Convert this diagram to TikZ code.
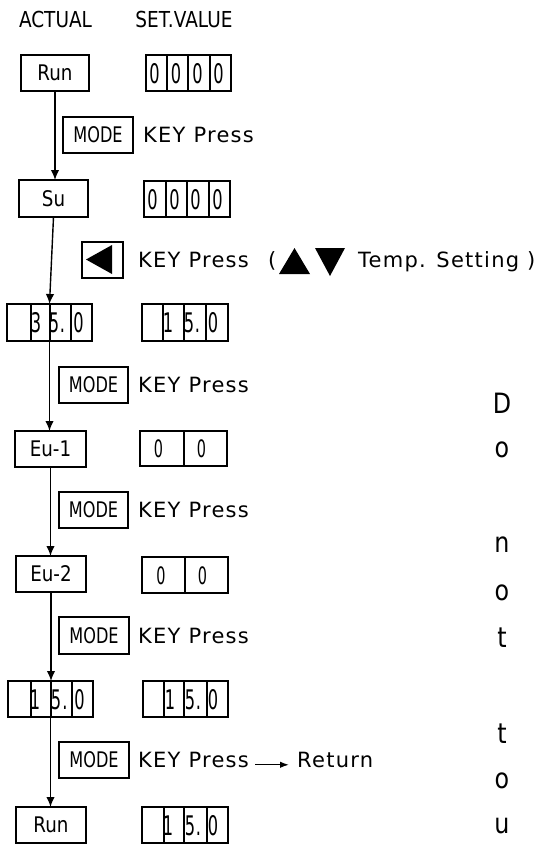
\documentclass[tikz,border=0pt]{standalone}
\usepackage{fontspec}
\setmainfont{DejaVu Sans}
\newfontfamily\lblfont{DejaVu Sans}[FakeStretch=0.85]
\newfontfamily\keyfont{DejaVu Sans}[LetterSpace=6]
\newfontfamily\modefont{DejaVu Sans}[FakeStretch=0.75]
\newfontfamily\digfont{DejaVu Sans}[FakeStretch=0.6]
\newfontfamily\hdfont{DejaVu Sans}[FakeStretch=0.84]
\newfontfamily\vtfont{DejaVu Sans}[FakeStretch=0.85]
\usetikzlibrary{arrows.meta}
\tikzset{
  box/.style={draw, line width=1.5pt, inner sep=0pt, outer sep=0pt, anchor=north west},
  lbl/.style={font=\lblfont\fontsize{21.5}{24}\selectfont},
  modebox/.style={box, font=\modefont\fontsize{21.5}{24}\selectfont},
  divline/.style={line width=1.4pt},
  dig/.style={font=\digfont\fontsize{27}{30}\selectfont, inner sep=0pt, anchor=base},
  digs/.style={font=\digfont\fontsize{24}{28}\selectfont, inner sep=0pt, anchor=base},
  keytxt/.style={font=\keyfont\fontsize{21}{24}\selectfont, inner sep=0pt, anchor=base west},
  hd/.style={font=\hdfont\fontsize{22}{26}\selectfont, inner sep=0pt, anchor=base},
  vt/.style={font=\vtfont\fontsize{28}{32}\selectfont, inner sep=0pt, anchor=base},
  conn/.style={line width=1.4pt, -{Latex[length=10pt,width=8.5pt]}},
  smallarrow/.style={line width=1.4pt, -{Latex[length=9pt,width=6.5pt]}, shorten <=6pt, shorten >=8pt}
}
\begin{document}
\begin{tikzpicture}[x=1pt,y=-1pt]
\fill[white] (0,0) rectangle (534,847);
\useasboundingbox (0,0) rectangle (534,847);

% headers
\node[hd] (hact) at (55.5,27) {ACTUAL};
\node[hd] (hset) at (184,27) {SET.VALUE};

% left column
\node[box, lbl, minimum width=68, minimum height=36] (run1) at (21,55) {Run};
\node[box, lbl, minimum width=69, minimum height=37] (su) at (19,180) {Su};
\node[box, minimum width=85, minimum height=37] (a35) at (7,304) {};
\foreach \d in {31,50,71} \draw[divline] (\d,0 |- a35.north) -- (\d,0 |- a35.south);
\node[dig] (a35d2) at (36,332) {3};
\node[dig] (a35d3) at (54,332) {5};
\node[dig] (a35p) at (62.5,332) {.};
\node[dig] (a35d4) at (78.5,332) {0};
\node[box, lbl, minimum width=71, minimum height=36] (eu1) at (15,431) {Eu-1};
\node[box, lbl, minimum width=70, minimum height=36] (eu2) at (16,556) {Eu-2};
\node[box, minimum width=85, minimum height=36] (a15) at (8,681) {};
\foreach \d in {31,51,72} \draw[divline] (\d,0 |- a15.north) -- (\d,0 |- a15.south);
\node[dig] (a15d2) at (35,709) {1};
\node[dig] (a15d3) at (56,709) {5};
\node[dig] (a15p) at (65,709) {.};
\node[dig] (a15d4) at (79.5,709) {0};
\node[box, lbl, minimum width=70, minimum height=36] (run2) at (16,807) {Run};

% right column
\node[box, minimum width=85, minimum height=36] (s1) at (146,55) {};
\foreach \d in {167,188,210} \draw[divline] (\d,0 |- s1.north) -- (\d,0 |- s1.south);
\foreach \x/\n in {154.5/1,176/2,197.5/3,218.5/4} \node[dig] (s1d\n) at (\x,83) {0};

\node[box, minimum width=86, minimum height=36] (s2) at (144,181) {};
\foreach \d in {166,187,209} \draw[divline] (\d,0 |- s2.north) -- (\d,0 |- s2.south);
\foreach \x/\n in {152.5/1,174.5/2,195.5/3,217.5/4} \node[dig] (s2d\n) at (\x,209) {0};

\node[box, minimum width=86, minimum height=37] (s3) at (142,304) {};
\foreach \d in {163,184,206} \draw[divline] (\d,0 |- s3.north) -- (\d,0 |- s3.south);
\node[dig] (s3d2) at (168,332) {1};
\node[dig] (s3d3) at (189,332) {5};
\node[dig] (s3p) at (197.5,332) {.};
\node[dig] (s3d4) at (213,332) {0};

\node[box, minimum width=87, minimum height=35] (s4) at (140,431) {};
\draw[divline] (184,0 |- s4.north) -- (184,0 |- s4.south);
\node[digs] (s4d1) at (158.5,457.5) {0};
\node[digs] (s4d2) at (201.5,457.5) {0};

\node[box, minimum width=86, minimum height=36] (s5) at (142,557) {};
\draw[divline] (185,0 |- s5.north) -- (185,0 |- s5.south);
\node[digs] (s5d1) at (161,584) {0};
\node[digs] (s5d2) at (202.5,584) {0};

\node[box, minimum width=85, minimum height=36] (s6) at (143,681) {};
\foreach \d in {164,184,207} \draw[divline] (\d,0 |- s6.north) -- (\d,0 |- s6.south);
\node[dig] (s6d2) at (170,709) {1};
\node[dig] (s6d3) at (190,709) {5};
\node[dig] (s6p) at (198.5,709) {.};
\node[dig] (s6d4) at (213,709) {0};

\node[box, minimum width=86, minimum height=36] (s7) at (142,807) {};
\foreach \d in {164,184,207} \draw[divline] (\d,0 |- s7.north) -- (\d,0 |- s7.south);
\node[dig] (s7d2) at (168,835) {1};
\node[dig] (s7d3) at (190,835) {5};
\node[dig] (s7p) at (198.5,835) {.};
\node[dig] (s7d4) at (213,835) {0};

% key boxes and texts
\node[modebox, minimum width=70, minimum height=36] (k1) at (63,117) {MODE};
\node[keytxt] (t1) at (143,142.5) {KEY Press};

\node[box, minimum width=41, minimum height=36] (k2) at (82,242) {};
\fill (86,259.5) -- (112,245) -- (112,274) -- cycle;
\node[keytxt] (t2) at (138,267.5) {KEY Press};
\node[keytxt] (t2p) at (268,267.5) {(};
\fill (279,274) -- (294.5,248) -- (310,274) -- cycle;
\fill (315,248) -- (345,248) -- (330,276) -- cycle;
\node[keytxt] (t2b) at (358,267.5) {Temp. Setting )};

\node[modebox, minimum width=69, minimum height=36] (k3) at (59,367) {MODE};
\node[keytxt] (t3) at (138,392.5) {KEY Press};
\node[modebox, minimum width=69, minimum height=36] (k4) at (59,492) {MODE};
\node[keytxt] (t4) at (138,517.5) {KEY Press};
\node[modebox, minimum width=70, minimum height=37] (k5) at (59,617) {MODE};
\node[keytxt] (t5) at (138,643) {KEY Press};
\node[modebox, minimum width=70, minimum height=36] (k6) at (59,742) {MODE};
\node[keytxt] (t6) at (138,767.5) {KEY Press};
\node[keytxt] (ret) at (297,767.5) {Return};
\draw[smallarrow] (t6.mid east) -- (ret.mid west);

% connectors
\draw[conn] (run1.south) -- (run1.south |- su.north);
\draw[conn] (su.south) -- (a35.north);
\draw[conn] (a35.south) -- (a35.south |- eu1.north);
\draw[conn] (eu1.south) -- (eu1.south |- eu2.north);
\draw[conn] (eu2.south) -- (eu2.south |- a15.north);
\draw[conn] (a15.south) -- (a15.south |- run2.north);

% vertical letters
\node[vt] (v1) at (502,413) {D};
\node[vt] (v2) at (502,457) {o};
\node[vt] (v3) at (502,552) {n};
\node[vt] (v4) at (502,600) {o};
\node[vt] (v5) at (502,647) {t};
\node[vt] (v6) at (502,743) {t};
\node[vt] (v7) at (502,788) {o};
\node[vt] (v8) at (502,833) {u};
\end{tikzpicture}
\end{document}
